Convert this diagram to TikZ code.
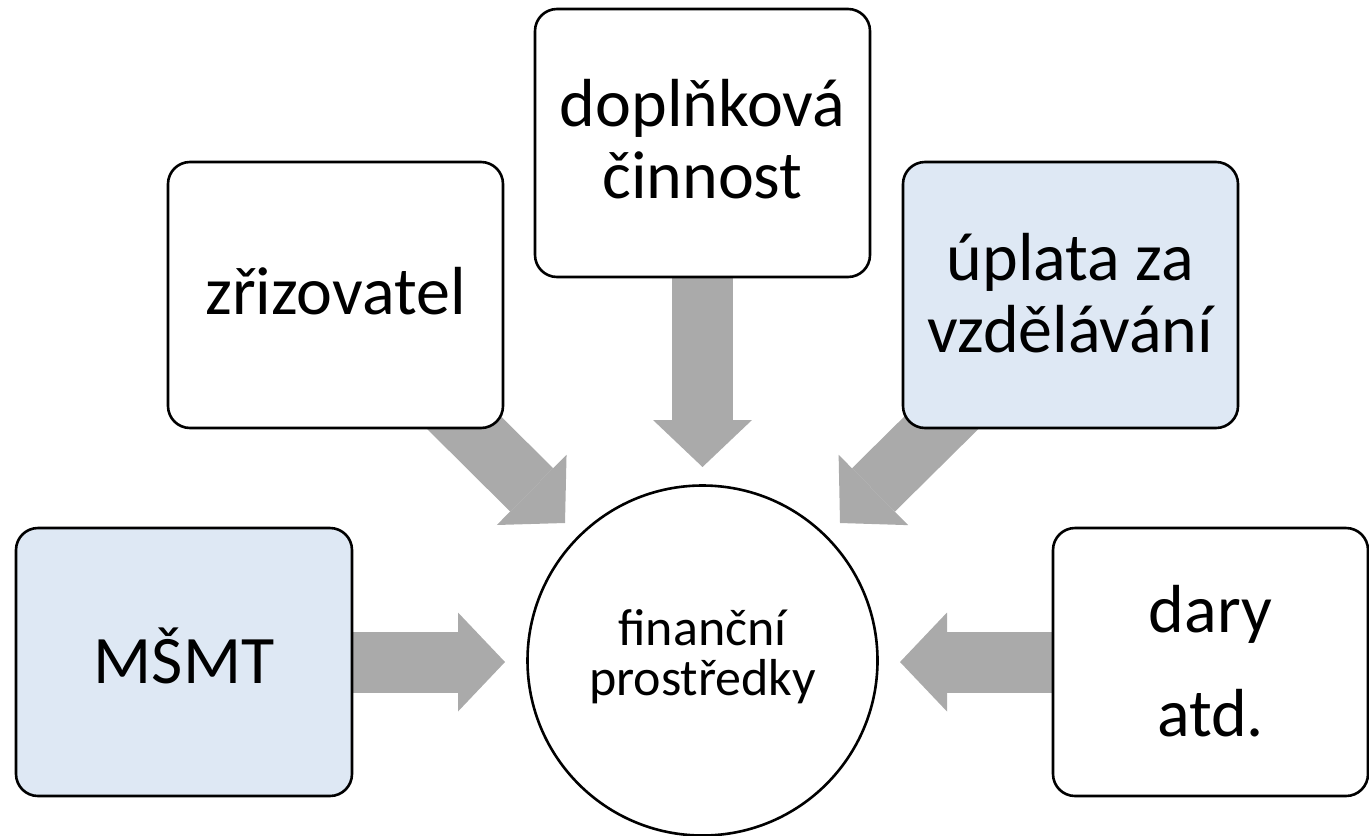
\documentclass[tikz,border=0pt]{standalone}
\usepackage{fontspec}
\setmainfont{Carlito}
\usetikzlibrary{arrows.meta}
\definecolor{boxblue}{HTML}{DEE8F4}
\definecolor{arrgray}{HTML}{AAAAAA}
\pgfdeclarelayer{bg}
\pgfsetlayers{bg,main}
\begin{document}
\begin{tikzpicture}[x=0.5pt,y=-0.5pt,
  srcbox/.style={draw=black, line width=1.3pt, rounded corners=11pt, fill=white, inner sep=0pt},
  bluebox/.style={srcbox, fill=boxblue},
  bigtext/.style={font=\fontsize{34pt}{40pt}\selectfont, inner sep=0pt, anchor=base},
  smalltext/.style={font=\fontsize{26pt}{30pt}\selectfont, inner sep=0pt, anchor=base},
  flow/.style={draw=arrgray, line width=30.5pt, -{Triangle[width=49.5pt,length=23.5pt,line width'=0pt]}}]
\useasboundingbox (0,0) rectangle (1369,835);

% boxes
\node[bluebox, minimum width=168pt, minimum height=134pt] (msmt) at (184,662) {};
\node[srcbox, minimum width=167.5pt, minimum height=133pt] (zriz) at (335.5,295) {};
\node[srcbox, minimum width=167.5pt, minimum height=134pt] (dopl) at (702.5,143) {};
\node[bluebox, minimum width=167.5pt, minimum height=133pt] (upl) at (1070.5,295) {};
\node[srcbox, minimum width=157.5pt, minimum height=134pt] (dary) at (1210.5,662) {};
\node[draw=black, line width=1.3pt, circle, fill=white, minimum size=175pt, inner sep=0pt] (fin) at (702.5,660.5) {};

% texts
\node[bigtext] (tmsmt) at (184,683) {MŠMT};
\node[bigtext] (tzriz) at (335.5,314) {zřizovatel};
\node[bigtext] (tdopla) at (702.5,126) {doplňková};
\node[bigtext] (tdoplb) at (702.5,198) {činnost};
\node[bigtext] (tupla) at (1070.5,280) {úplata za};
\node[bigtext] (tuplb) at (1070.5,352) {vzdělávání};
\node[bigtext] (tdara) at (1210.5,632) {dary};
\node[bigtext] (tdarb) at (1210.5,736) {atd.};
\node[smalltext] (tfina) at (702.5,645) {finanční};
\node[smalltext] (tfinb) at (702.5,695) {prostředky};

% arrow tips
\coordinate (tipL) at (505,662);
\coordinate (tipR) at (900,662);
\coordinate (tipT) at (702.5,467);
\coordinate (tipZ) at (565,523);
\coordinate (tipU) at (840,523);

\begin{pgfonlayer}{bg}
\draw[flow] (msmt.center) -- (tipL);
\draw[flow] (dary.center) -- (tipR);
\draw[flow] (dopl.center) -- (tipT);
\draw[flow] (zriz.center) -- (tipZ);
\draw[flow] (upl.center) -- (tipU);
\end{pgfonlayer}
\end{tikzpicture}
\end{document}
